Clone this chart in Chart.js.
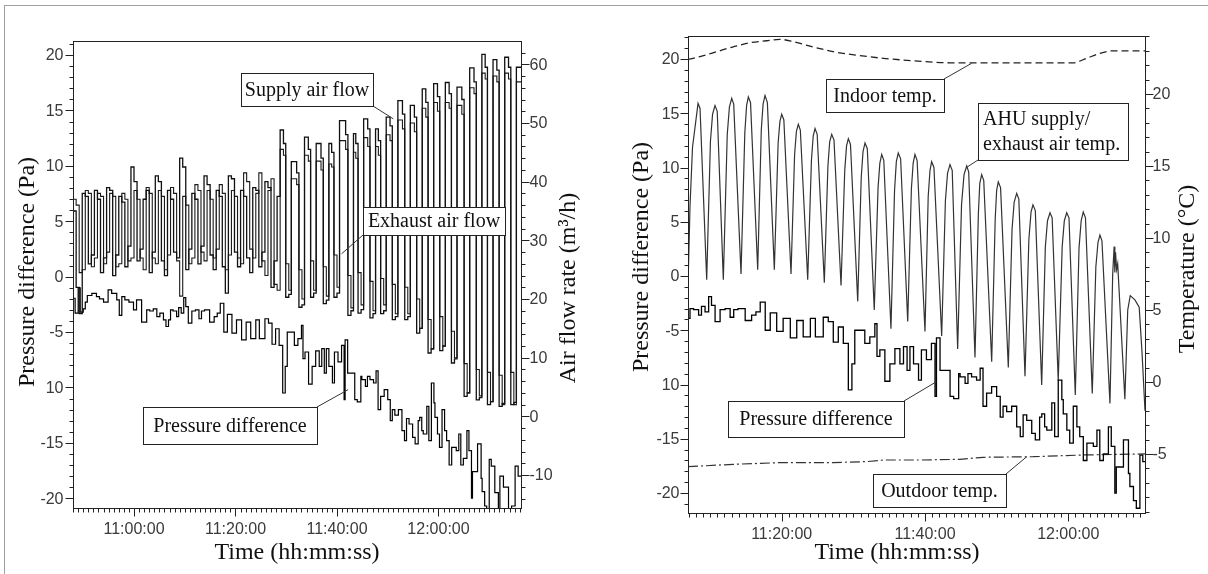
<!DOCTYPE html>
<html>
<head>
<meta charset="utf-8">
<title>Pressure difference, air flow and temperatures</title>
<script src="https://cdn.jsdelivr.net/npm/chart.js@4.4.1/dist/chart.umd.min.js"></script>
<style>
  html, body { margin: 0; padding: 0; background: #fff; }
  body { position: relative; width: 1208px; height: 574px; overflow: hidden; }
  #frame { position: absolute; left: 4px; top: 5px; width: 1210px; height: 580px;
           border-left: 1px solid #a0a0a0; border-top: 1px solid #a0a0a0; }
  canvas { position: absolute; top: 0; }
  #chartLeft { left: 0; }
  #chartRight { left: 604px; }
</style>
</head>
<body>
<div id="frame"></div>
<canvas id="chartLeft" width="604" height="574"></canvas>
<canvas id="chartRight" width="604" height="574"></canvas>
<script>
// all times are minutes after 11:00:00

// pressure difference (Pa), same record in both panels
const pdTime = [-12.0,-11.6,-11.0,-10.6,-10.0,-9.6,-9.2,-8.3,-7.4,-6.8,
  -6.0,-5.1,-4.4,-3.4,-2.9,-2.4,-1.8,-1.0,-0.1,0.5,
  1.5,2.5,3.1,3.8,4.5,5.1,5.8,6.3,6.8,7.2,
  7.7,8.4,8.8,9.3,9.8,10.2,10.7,11.4,12.1,12.8,
  13.3,13.9,14.9,15.8,16.4,17.0,17.7,18.4,19.3,20.2,
  21.2,22.1,23.0,24.0,24.7,25.8,26.5,27.2,27.9,28.6,
  29.3,29.8,30.2,30.9,31.6,32.3,33.0,33.3,33.7,34.4,
  35.1,35.8,36.5,37.0,37.5,37.9,38.4,39.1,39.5,40.2,
  40.9,41.4,41.6,42.1,42.6,43.5,44.0,44.7,44.9,45.6,
  46.0,46.5,47.2,47.7,48.1,48.6,49.3,50.0,50.5,50.9,
  51.4,52.1,52.8,53.3,53.7,54.2,54.9,55.4,56.0,56.3,
  56.7,57.0,57.7,58.1,58.6,59.1,59.3,59.8,60.2,60.7,
  61.2,61.6,62.1,62.6,62.8,63.5,64.0,64.4,64.9,65.6,
  66.0,66.5,66.7,67.2,67.7,68.4,68.6,69.1,69.5,70.0,
  70.4,71.1,71.8,72.1,72.8,73.8,74.4,75.1,75.7,76.1,76.3];
const pdVal = [-2.0,-1.95,-3.3,-1.0,-3.2,-2.9,-2.3,-1.7,-1.5,-1.8,
  -2.0,-2.3,-1.2,-1.5,-2.1,-3.5,-1.8,-2.1,-2.3,-3.0,
  -2.1,-4.1,-3.0,-3.1,-2.9,-3.6,-3.3,-3.9,-4.5,-3.9,
  -3.0,-3.1,-3.6,-2.8,-3.3,-1.9,-2.7,-4.2,-3.1,-3.0,
  -3.8,-3.1,-3.0,-4.1,-3.6,-3.3,-2.4,-5.0,-3.4,-5.1,
  -3.9,-5.7,-4.1,-5.6,-3.9,-5.6,-3.8,-4.2,-6.1,-4.7,
  -6.2,-10.5,-8.1,-5.0,-5.0,-6.2,-5.6,-4.4,-7.4,-6.8,
  -9.7,-8.1,-6.7,-8.1,-6.5,-8.7,-6.5,-8.1,-9.6,-6.8,
  -7.7,-6.2,-11.1,-5.7,-8.7,-8.7,-11.1,-11.3,-9.0,-9.3,
  -9.9,-9.0,-9.3,-9.6,-8.5,-12.0,-10.8,-10.2,-11.1,-13.0,
  -12.0,-12.5,-12.0,-13.9,-14.8,-12.8,-13.3,-14.5,-15.1,-13.0,
  -12.7,-13.9,-14.2,-11.7,-14.8,-9.6,-11.4,-12.7,-14.2,-15.4,
  -12.0,-13.9,-14.8,-17.0,-15.4,-15.4,-15.7,-14.2,-17.0,-16.4,
  -13.9,-15.7,-20.0,-17.6,-17.6,-15.1,-18.2,-19.4,-20.7,-21.4,
  -16.5,-17.1,-19.5,-21.3,-18.0,-19.0,-21.2,-20.7,-17.1,-18.0,-18.0];

// air flow rates (m3/h), left panel
const flowTime = [-12.0,-11.4,-10.8,-10.2,-9.6,-9.0,-8.4,-7.8,-7.2,-6.6,
  -6.0,-5.4,-4.8,-4.2,-3.6,-3.0,-2.4,-1.8,-1.2,-0.6,
  0.0,0.6,1.2,1.8,2.4,3.0,3.6,4.2,4.8,5.4,
  6.0,6.6,7.2,7.8,8.4,9.0,9.6,10.2,10.8,11.4,
  12.0,12.6,13.2,13.8,14.4,15.0,15.6,16.2,16.8,17.4,
  18.0,18.6,19.2,19.8,20.4,21.0,21.6,22.2,22.8,23.4,
  24.0,24.6,25.2,25.8,26.4,27.0,27.6,28.2,28.8,
  29.45,29.9,30.5,31.0, 32.05,32.5,33.1,33.6, 34.35,34.8,35.4,35.9,
  36.85,37.3,37.9,38.4, 38.95,39.4,40.0,40.5, 41.7,42.15,42.75,43.25,
  43.7,44.15,44.75,45.25, 46.05,46.5,47.1,47.6, 48.15,48.6,49.2,49.7,
  50.45,50.9,51.5,52.0, 52.9,53.35,53.95,54.45, 55.25,55.7,56.3,56.8,
  57.5,57.95,58.55,59.05, 59.8,60.25,60.85,61.35, 62.1,62.55,63.15,63.65,
  64.6,65.05,65.65,66.15, 67.0,67.45,68.05,68.55, 69.2,69.65,70.25,70.75,
  71.5,71.95,72.55,73.05, 73.8,74.25,74.85,75.35, 75.9,76.3];
const supplyFlow = [36.5,35.0,22.0,17.5,38.0,37.5,26.0,27.5,38.5,37.0,
  24.5,27.0,39.0,38.5,24.0,27.5,37.5,36.5,25.5,29.0,
  42.5,40.0,26.5,28.5,37.0,38.5,24.5,28.0,41.0,40.0,
  26.5,24.0,38.5,37.0,28.0,27.0,44.0,42.5,25.0,28.5,
  38.0,37.0,26.0,29.0,41.0,39.5,27.5,25.0,38.5,37.5,
  25.5,21.0,41.0,40.5,28.0,25.5,38.5,37.5,27.0,24.5,
  39.0,38.5,25.5,28.0,40.0,39.0,22.0,26.5,37.5,
  48.8,46.5,20.3,20.8, 43.4,41.5,18.6,19.0, 47.6,45.5,20.3,21.0,
  46.5,44.0,19.2,19.8, 46.5,45.0,20.3,21.0, 50.4,48.0,17.2,18.0,
  48.2,46.5,17.6,18.2, 50.7,49.0,16.8,17.5, 49.0,47.0,17.5,18.0,
  51.0,49.5,16.5,17.0, 53.8,51.5,16.5,17.0, 53.0,51.0,14.2,15.0,
  55.8,53.5,10.8,11.5, 56.7,54.5,11.2,12.0, 56.9,55.0,9.1,9.8,
  56.1,54.0,3.4,4.0, 59.4,57.0,2.8,3.2, 61.7,59.5,2.0,2.5,
  60.8,59.0,1.7,2.2, 61.2,59.5,2.0,2.4, 59.5,59.5];
const exhaustFlow = [23.0,37.0,36.0,24.5,25.0,38.5,38.0,25.5,27.0,38.0,
  37.5,26.0,28.0,38.0,37.5,25.5,26.0,38.0,37.0,26.5,
  27.0,38.5,37.0,27.0,25.0,39.0,38.0,27.0,26.0,38.5,
  37.5,25.0,27.5,39.0,38.0,26.5,20.5,37.5,36.0,26.0,
  27.0,39.5,38.5,28.0,26.5,38.5,37.0,27.0,28.5,39.5,
  38.0,25.0,27.5,38.5,37.5,27.0,26.0,41.5,40.0,28.5,
  27.0,38.0,41.5,26.5,24.0,38.5,40.5,22.5,21.5,
  45.5,44.5,26.0,21.5, 40.5,39.5,25.0,20.0, 44.5,43.5,26.5,21.5,
  43.5,42.0,25.5,20.5, 43.0,42.5,27.5,22.0, 47.0,45.5,24.0,18.5,
  45.0,44.0,24.5,19.0, 47.5,46.0,23.0,18.0, 46.0,44.5,23.5,19.0,
  48.0,47.0,22.5,17.5, 50.5,49.0,22.0,17.5, 50.0,48.5,20.0,15.0,
  52.5,51.0,16.5,11.5, 53.5,52.0,17.0,12.0, 53.5,52.5,14.5,10.0,
  53.0,51.5,9.0,4.0, 56.0,55.0,8.0,3.5, 58.5,57.5,7.5,2.5,
  58.0,57.0,7.0,2.0, 58.5,57.5,7.5,2.0, 57.0,57.0];

// AHU supply/exhaust air temperature (C), right panel
const ahuTime = [6.92,7.2,7.55,8.32,8.6,
  9.53,10.05,10.35,10.69,11.0, 11.85,12.4,12.7,13.02,13.3,
  14.32,14.85,15.1,15.34,15.65, 16.65,17.15,17.4,17.67,18.0,
  18.97,19.5,19.75,20.0,20.3, 21.3,21.8,22.05,22.32,22.6,
  23.63,24.15,24.4,24.65,24.95, 25.95,26.45,26.7,26.98,27.3,
  28.28,28.8,29.05,29.3,29.6, 30.61,31.1,31.35,31.63,31.95,
  32.92,33.45,33.7,33.96,34.25, 35.25,35.75,36.0,36.27,36.6,
  37.59,38.1,38.35,38.6,38.9, 40.0,40.45,40.7,40.93,41.25,
  42.33,42.85,43.15,43.49,43.8, 44.56,45.1,45.45,45.82,46.1,
  46.98,47.45,47.65,47.91,48.2, 49.31,49.8,50.0,50.23,50.55,
  51.63,52.15,52.45,52.8,53.1, 53.96,54.5,54.8,55.07,55.4,
  56.29,56.8,57.1,57.45,57.75, 58.6,59.15,59.45,59.78,60.1,
  60.98,61.5,61.8,62.09,62.4, 63.35,63.85,64.15,64.42,64.7,
  65.82,66.2,66.4,66.5,66.6,66.75,66.9,
  67.9,68.3,68.65,69.3,69.9,70.3,70.71];
const ahuTemp = [6.6,12.2,16.3,19.35,19.0,
  7.1,16.7,18.6,19.2,18.8, 7.1,17.2,19.1,19.7,19.3,
  7.5,17.3,19.2,19.8,19.4, 7.8,17.5,19.3,19.9,19.4,
  7.8,16.6,18.1,18.6,18.2, 7.5,15.8,17.4,17.9,17.5,
  7.1,15.4,17.1,17.6,17.2, 6.9,15.0,16.7,17.2,16.8,
  6.7,14.7,16.4,16.9,16.5, 5.6,14.2,16.0,16.6,16.2,
  5.0,13.5,15.2,15.8,15.4, 3.7,13.3,15.3,15.9,15.5,
  4.2,13.4,15.2,15.8,15.4, 3.5,12.9,14.7,15.3,14.9,
  3.2,12.6,14.5,15.1,14.7, 2.3,12.3,14.4,15.0,14.6,
  1.7,11.7,13.8,14.4,14.0, 1.4,11.3,13.3,13.9,13.5,
  1.0,10.6,12.5,13.1,12.7, 0.4,9.9,11.8,12.3,11.9,
  -0.2,9.4,11.2,11.75,11.4, 0.1,9.4,11.2,11.75,11.4,
  -0.9,9.3,11.2,11.8,11.4, -0.8,8.0,9.7,10.2,9.8,
  -1.5,7.5,9.4,7.6,9.0,7.8,8.2,
  -1.2,5.0,6.0,5.7,5.2,2.0,-2.0];

// indoor and outdoor temperature (C), right panel
const indoorTime = [6.92,8.6,10.93,13.25,15.58,17.9,19.76,21.62,23.95,27.2,
  30.47,34.18,38.37,43.49,50.47,60.7,62.57,64.42,66.28,70.71];
const indoorTemp = [22.4,22.6,22.94,23.28,23.56,23.7,23.8,23.63,23.33,22.94,
  22.7,22.48,22.31,22.17,22.17,22.17,22.48,22.83,23.0,23.0];
const outdoorTime = [6.92,13.25,19.76,27.2,31.86,34.18,39.3,44.88,48.14,55.12,62.09,70.71];
const outdoorTemp = [-5.88,-5.72,-5.6,-5.6,-5.53,-5.42,-5.42,-5.37,-5.23,-5.19,-5.07,-5.0];

// tick labels
const timeLabelsLeft = ['11:00:00', '11:20:00', '11:40:00', '12:00:00'];
const timeLabelsRight = ['11:20:00', '11:40:00', '12:00:00'];
const pressureTicks = [20, 15, 10, 5, 0, -5, -10, -15, -20];
const pressureLabels = ['20', '15', '10', '5', '0', '-5', '10', '-15', '-20'];
const flowTicks = [60, 50, 40, 30, 20, 10, 0, -10];
const flowLabels = ['60', '50', '40', '30', '20', '10', '0', '-10'];
const tempTicks = [20, 15, 10, 5, 0, -5];
const tempLabels = ['20', '15', '10', '5', '0', '-5'];

const tickFont = '16px "Liberation Sans", Arial, sans-serif';
const titleFont = '24px "Liberation Serif", "Times New Roman", serif';
const noteFont = '20px "Liberation Serif", "Times New Roman", serif';

function toMin(label) {
  const p = label.split(':').map(Number);
  return (p[0] - 11) * 60 + p[1] + p[2] / 60;
}
function pts(xs, ys) { return xs.map((x, i) => ({ x: x, y: ys[i] })); }

// frame, ticks, titles and call-outs, drawn from the chart's own scales
function panel(cfg) {
  return {
    id: 'panel',
    afterDraw(chart) {
      const ctx = chart.ctx;
      const a = chart.chartArea;
      const sx = chart.scales.x;
      const L = Math.round(a.left) + 0.5, R = Math.round(a.right) + 0.5;
      const T = Math.round(a.top) + 0.5, B = Math.round(a.bottom) + 0.5;
      ctx.save();
      ctx.strokeStyle = '#222';
      ctx.lineWidth = 1;
      ctx.strokeRect(L, T, R - L, B - T);

      ctx.beginPath();
      for (let m = Math.ceil(sx.min); m <= sx.max; m++) {
        const px = Math.round(sx.getPixelForValue(m)) + 0.5;
        ctx.moveTo(px, B); ctx.lineTo(px, B + 4);
      }
      cfg.xLabels.forEach(l => {
        const px = Math.round(sx.getPixelForValue(toMin(l))) + 0.5;
        ctx.moveTo(px, B); ctx.lineTo(px, B + 8);
      });
      ctx.stroke();
      ctx.fillStyle = '#3a3a3a';
      ctx.font = tickFont;
      ctx.textAlign = 'center';
      ctx.textBaseline = 'middle';
      cfg.xLabels.forEach(l => ctx.fillText(l, sx.getPixelForValue(toMin(l)), B + 21));

      cfg.yAxes.forEach(ax => {
        const s = chart.scales[ax.id];
        const x0 = ax.side === 'left' ? L : R;
        const d = ax.side === 'left' ? -1 : 1;
        ctx.beginPath();
        for (let i = Math.ceil(s.min / ax.minor); i * ax.minor <= s.max; i++) {
          const py = Math.round(s.getPixelForValue(i * ax.minor)) + 0.5;
          ctx.moveTo(x0, py); ctx.lineTo(x0 + d * 4, py);
        }
        ax.ticks.forEach(v => {
          const py = Math.round(s.getPixelForValue(v)) + 0.5;
          ctx.moveTo(x0, py); ctx.lineTo(x0 + d * 8, py);
        });
        ctx.stroke();
        ctx.textAlign = ax.side === 'left' ? 'right' : 'left';
        ax.ticks.forEach((v, i) => ctx.fillText(ax.labels[i], x0 + d * ax.gap, s.getPixelForValue(v) + 1));
      });

      ctx.fillStyle = '#111';
      ctx.font = titleFont;
      ctx.textAlign = 'center';
      cfg.titles.forEach(t => {
        ctx.save();
        ctx.translate(t.x, t.y);
        if (t.vertical) ctx.rotate(-Math.PI / 2);
        ctx.fillText(t.text, 0, 0);
        ctx.restore();
      });

      ctx.font = noteFont;
      cfg.notes.forEach(n => {
        const tx = sx.getPixelForValue(n.at[0]);
        const ty = chart.scales[n.axis].getPixelForValue(n.at[1]);
        ctx.strokeStyle = '#333';
        ctx.beginPath(); ctx.moveTo(n.from[0], n.from[1]); ctx.lineTo(tx, ty); ctx.stroke();
        const [x0, y0, x1, y1] = n.box;
        ctx.fillStyle = '#fff';
        ctx.fillRect(x0, y0, x1 - x0, y1 - y0);
        ctx.strokeStyle = '#222';
        ctx.strokeRect(x0 + 0.5, y0 + 0.5, x1 - x0, y1 - y0);
        ctx.fillStyle = '#111';
        const lh = 25;
        const cy = (y0 + y1) / 2 - (n.lines.length - 1) * lh / 2 + 1;
        if (n.lines.length > 1) {
          ctx.textAlign = 'left';
          n.lines.forEach((s, i) => ctx.fillText(s, x0 + 5, cy + i * lh));
        } else {
          ctx.textAlign = 'center';
          ctx.fillText(n.lines[0], (x0 + x1) / 2, cy);
        }
      });
      ctx.restore();
    }
  };
}

function line(data, axis, color, width, extra) {
  return Object.assign({
    data: data, yAxisID: axis, borderColor: color, borderWidth: width,
    pointRadius: 0, fill: false, tension: 0
  }, extra || {});
}

const common = {
  responsive: false,
  animation: false,
  devicePixelRatio: 1,
  events: [],
  plugins: { legend: { display: false }, tooltip: { enabled: false } }
};

new Chart(document.getElementById('chartLeft'), {
  type: 'line',
  data: {
    datasets: [
      line(pts(pdTime, pdVal), 'yP', '#000', 1.2, { stepped: 'after' }),
      line(pts(flowTime, supplyFlow), 'yF', '#111', 1.3, { stepped: 'after' }),
      line(pts(flowTime, exhaustFlow), 'yF', '#1a1a1a', 1.1, { stepped: 'after' })
    ]
  },
  options: Object.assign({}, common, {
    layout: { padding: { left: 73, top: 41, right: 83, bottom: 66 } },
    scales: {
      x: { type: 'linear', min: -12.02, max: 76.26, display: false },
      yP: { type: 'linear', position: 'left', min: -20.88, max: 21.27, display: false },
      yF: { type: 'linear', position: 'right', min: -15.61, max: 63.97, display: false }
    }
  }),
  plugins: [panel({
    xLabels: timeLabelsLeft,
    yAxes: [
      { id: 'yP', side: 'left', ticks: pressureTicks, labels: pressureLabels, minor: 1, gap: 10 },
      { id: 'yF', side: 'right', ticks: flowTicks, labels: flowLabels, minor: 2, gap: 8 }
    ],
    titles: [
      { text: 'Pressure difference (Pa)', x: 28, y: 272, vertical: true },
      { text: 'Air flow rate (m³/h)', x: 569, y: 288, vertical: true },
      { text: 'Time (hh:mm:ss)', x: 297, y: 553 }
    ],
    notes: [
      { lines: ['Supply air flow'], box: [241, 73, 373, 106], from: [373, 106], at: [51.1, 50.7], axis: 'yF' },
      { lines: ['Exhaust air flow'], box: [363, 207, 505, 235], from: [363, 235], at: [40.9, 27.7], axis: 'yF' },
      { lines: ['Pressure difference'], box: [143, 407, 317, 444], from: [317, 407], at: [42.2, -10.2], axis: 'yP' }
    ]
  })]
});

new Chart(document.getElementById('chartRight'), {
  type: 'line',
  data: {
    datasets: [
      line(pts(pdTime, pdVal), 'yP', '#000', 1.3, { stepped: 'after' }),
      line(pts(ahuTime, ahuTemp), 'yT', '#333', 1.2),
      line(pts(indoorTime, indoorTemp), 'yT', '#222', 1.3, { borderDash: [7, 4], cubicInterpolationMode: 'monotone' }),
      line(pts(outdoorTime, outdoorTemp), 'yT', '#333', 1.2, { borderDash: [10, 3, 2, 3] })
    ]
  },
  options: Object.assign({}, common, {
    layout: { padding: { left: 84, top: 36, right: 63, bottom: 61 } },
    scales: {
      x: { type: 'linear', min: 6.92, max: 70.71, display: false },
      yP: { type: 'linear', position: 'left', min: -21.84, max: 22.12, display: false },
      yT: { type: 'linear', position: 'right', min: -9.10, max: 24.03, display: false }
    }
  }),
  plugins: [panel({
    xLabels: timeLabelsRight,
    yAxes: [
      { id: 'yP', side: 'left', ticks: pressureTicks, labels: pressureLabels, minor: 1, gap: 9 },
      { id: 'yT', side: 'right', ticks: tempTicks, labels: tempLabels, minor: 1, gap: 7 }
    ],
    titles: [
      { text: 'Pressure difference (Pa)', x: 38, y: 257, vertical: true },
      { text: 'Temperature (°C)', x: 584, y: 269, vertical: true },
      { text: 'Time (hh:mm:ss)', x: 293, y: 553 }
    ],
    notes: [
      { lines: ['Indoor temp.'], box: [222, 79, 340, 112], from: [340, 79], at: [46.5, 22.13], axis: 'yT' },
      { lines: ['AHU supply/', 'exhaust air temp.'], box: [374, 103, 524, 160], from: [374, 160], at: [45.8, 14.9], axis: 'yT' },
      { lines: ['Pressure difference'], box: [124, 401, 300, 437], from: [300, 401], at: [41.6, -9.74], axis: 'yP' },
      { lines: ['Outdoor temp.'], box: [269, 474, 402, 507], from: [402, 474], at: [54.2, -5.19], axis: 'yT' }
    ]
  })]
});
</script>
</body>
</html>
